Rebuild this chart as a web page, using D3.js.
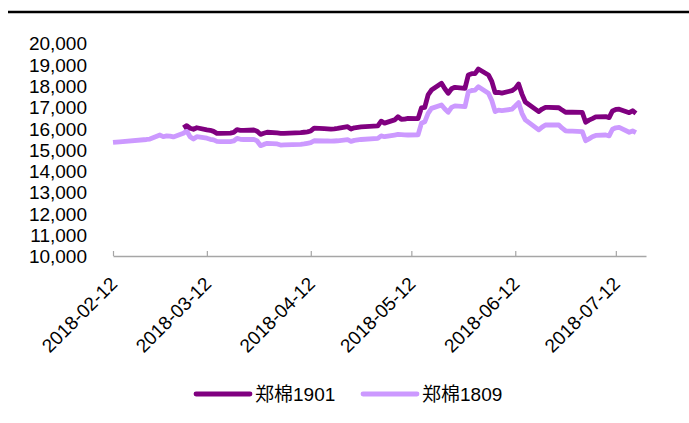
<!DOCTYPE html>
<html>
<head>
<meta charset="utf-8">
<script src="https://cdn.jsdelivr.net/npm/d3@7"></script>
<style>
  html, body { margin: 0; padding: 0; background: #fff; }
  svg { display: block; font-family: Arial, "Liberation Sans", "Noto Sans CJK SC", sans-serif; }
</style>
</head>
<body>
<div id="chart"></div>
<script>
const dates = [
    "2018-02-12", "2018-02-14", "2018-02-22", "2018-02-23", "2018-02-26", "2018-02-27", "2018-02-28",
    "2018-03-01", "2018-03-02", "2018-03-05", "2018-03-06", "2018-03-07", "2018-03-08", "2018-03-09",
    "2018-03-12", "2018-03-13", "2018-03-14", "2018-03-15", "2018-03-16", "2018-03-19", "2018-03-20",
    "2018-03-21", "2018-03-22", "2018-03-23", "2018-03-26", "2018-03-27", "2018-03-28", "2018-03-29",
    "2018-03-30", "2018-04-02", "2018-04-03", "2018-04-04", "2018-04-09", "2018-04-10", "2018-04-11",
    "2018-04-12", "2018-04-13", "2018-04-16", "2018-04-17", "2018-04-18", "2018-04-19", "2018-04-20",
    "2018-04-23", "2018-04-24", "2018-04-25", "2018-04-26", "2018-04-27", "2018-05-02", "2018-05-03",
    "2018-05-04", "2018-05-07", "2018-05-08", "2018-05-09", "2018-05-10", "2018-05-11", "2018-05-14",
    "2018-05-15", "2018-05-16", "2018-05-17", "2018-05-18", "2018-05-21", "2018-05-22", "2018-05-23",
    "2018-05-24", "2018-05-25", "2018-05-28", "2018-05-29", "2018-05-30", "2018-05-31", "2018-06-01",
    "2018-06-04", "2018-06-05", "2018-06-06", "2018-06-07", "2018-06-08", "2018-06-11", "2018-06-12",
    "2018-06-13", "2018-06-14", "2018-06-15", "2018-06-19", "2018-06-20", "2018-06-21", "2018-06-22",
    "2018-06-25", "2018-06-26", "2018-06-27", "2018-06-28", "2018-06-29", "2018-07-02", "2018-07-03",
    "2018-07-04", "2018-07-05", "2018-07-06", "2018-07-09", "2018-07-10", "2018-07-11", "2018-07-12",
    "2018-07-13", "2018-07-16", "2018-07-17", "2018-07-18"
];

// 郑棉1901 (starts trading later in the window)
const cf1901 = [
    null, null, null, null, null, null, null,
    null, null, 16020, 16120, 16000, 15950, 16020,
    15920, 15900, 15850, 15760, 15760, 15770, 15800,
    15930, 15900, 15900, 15915, 15860, 15710, 15760,
    15810, 15780, 15760, 15760, 15790, 15810, 15830,
    15870, 16000, 15980, 15970, 15960, 15970, 15990,
    16070, 15960, 16020, 16040, 16060, 16110, 16330,
    16240, 16390, 16540, 16420, 16430, 16460, 16450,
    16950, 16980, 17560, 17790, 18110, 17850, 17640,
    17850, 17920, 17870, 18500, 18560, 18560, 18780,
    18500, 18200, 17670, 17680, 17650, 17760, 17870,
    18075, 17600, 17230, 16780, 16900, 16980, 16980,
    16960, 16850, 16750, 16750, 16750, 16740, 16280,
    16380, 16450, 16530, 16540, 16500, 16810, 16880,
    16890, 16730, 16820, 16700
];

// 郑棉1809
const cf1809 = [
    15330, 15360, 15470, 15490, 15680, 15600, 15640,
    15630, 15590, 15760, 15870, 15600, 15490, 15600,
    15530, 15480, 15450, 15380, 15370, 15370, 15400,
    15520, 15480, 15470, 15480, 15400, 15180, 15240,
    15290, 15260, 15210, 15220, 15240, 15260, 15290,
    15320, 15410, 15400, 15400, 15390, 15400, 15410,
    15460, 15380, 15430, 15450, 15470, 15520, 15640,
    15600, 15680, 15710, 15700, 15690, 15680, 15690,
    16230, 16300, 16700, 16930, 17090, 16900, 16750,
    16980, 17050, 17010, 17710, 17770, 17790, 17950,
    17640, 17300, 16780, 16850, 16830, 16890, 17040,
    17200, 16700, 16390, 15920, 16050, 16150, 16150,
    16150, 16000, 15880, 15860, 15860, 15840, 15410,
    15500, 15600, 15660, 15680, 15640, 15950, 16020,
    16040, 15810, 15870, 15790
];

const yTicks = [10000, 11000, 12000, 13000, 14000, 15000, 16000, 17000, 18000, 19000, 20000];
const xTicks = ["2018-02-12", "2018-03-12", "2018-04-12", "2018-05-12", "2018-06-12", "2018-07-12"];
const seriesNames = ["郑棉1901", "郑棉1809"];
const seriesColors = ["#800080", "#CC99FF"];

const parseDate = d3.timeParse("%Y-%m-%d");
const formatDate = d3.timeFormat("%Y-%m-%d");

const width = 689;
const height = 423;
const fontSize = 19;

const svg = d3.select("#chart").append("svg")
    .attr("width", width)
    .attr("height", height)
    .attr("viewBox", [0, 0, width, height]);

// rule across the top
svg.append("line")
    .attr("x1", 8).attr("x2", width)
    .attr("y1", 12).attr("y2", 12)
    .attr("stroke", "#000")
    .attr("stroke-width", 2.5);

const xScale = d3.scaleTime()
    .domain([parseDate("2018-02-12"), parseDate("2018-07-21")])
    .range([113, 646]);

const yScale = d3.scaleLinear()
    .domain([10000, 20000])
    .range([256, 43]);

// y labels only, no axis line
const yAxis = svg.append("g")
    .attr("transform", "translate(90, 0)")
    .call(d3.axisLeft(yScale).tickValues(yTicks).tickSize(0).tickPadding(3).tickFormat(d3.format(",")));
yAxis.select(".domain").remove();
yAxis.selectAll("text")
    .attr("font-size", fontSize)
    .attr("font-family", "Arial, 'Liberation Sans', sans-serif")
    .attr("fill", "#000")
    .attr("dy", "0.36em");

const xAxis = svg.append("g")
    .attr("transform", `translate(0, ${yScale(10000)})`)
    .call(d3.axisBottom(xScale)
        .tickValues(xTicks.map(parseDate))
        .tickSizeInner(-5)
        .tickSizeOuter(0)
        .tickFormat(formatDate));
xAxis.select(".domain").attr("stroke", "#a6a6a6").attr("stroke-width", 1.5);
xAxis.selectAll(".tick line").attr("stroke", "#a6a6a6").attr("stroke-width", 1.2);
xAxis.selectAll(".tick text")
    .attr("font-size", fontSize)
    .attr("font-family", "Arial, 'Liberation Sans', sans-serif")
    .attr("fill", "#000")
    .attr("text-anchor", "end")
    .attr("y", 0)
    .attr("dy", 0)
    .attr("transform", "translate(5, 29) rotate(-45)");

const rows = dates.map((d, i) => ({ date: parseDate(d), a: cf1901[i], b: cf1809[i] }));

const lineFor = (key) => d3.line()
    .defined((d) => d[key] != null)
    .x((d) => xScale(d.date))
    .y((d) => yScale(d[key]));

// light series first so the dark one sits on top
svg.append("path")
    .datum(rows)
    .attr("fill", "none")
    .attr("stroke", seriesColors[1])
    .attr("stroke-width", 4.8)
    .attr("stroke-linejoin", "round")
    .attr("d", lineFor("b"));

svg.append("path")
    .datum(rows)
    .attr("fill", "none")
    .attr("stroke", seriesColors[0])
    .attr("stroke-width", 4.8)
    .attr("stroke-linejoin", "round")
    .attr("d", lineFor("a"));

// legend
const legendX = [196, 363];
const legend = svg.append("g");
seriesNames.forEach((name, i) => {
    const g = legend.append("g").attr("transform", `translate(${legendX[i]}, 394)`);
    g.append("line")
        .attr("x1", 0).attr("x2", 54)
        .attr("stroke", seriesColors[i])
        .attr("stroke-width", 4.8)
        .attr("stroke-linecap", "round");
    g.append("text")
        .attr("x", 59)
        .attr("dy", "0.36em")
        .attr("font-size", fontSize)
        .attr("fill", "#000")
        .text(name);
});
</script>
</body>
</html>
